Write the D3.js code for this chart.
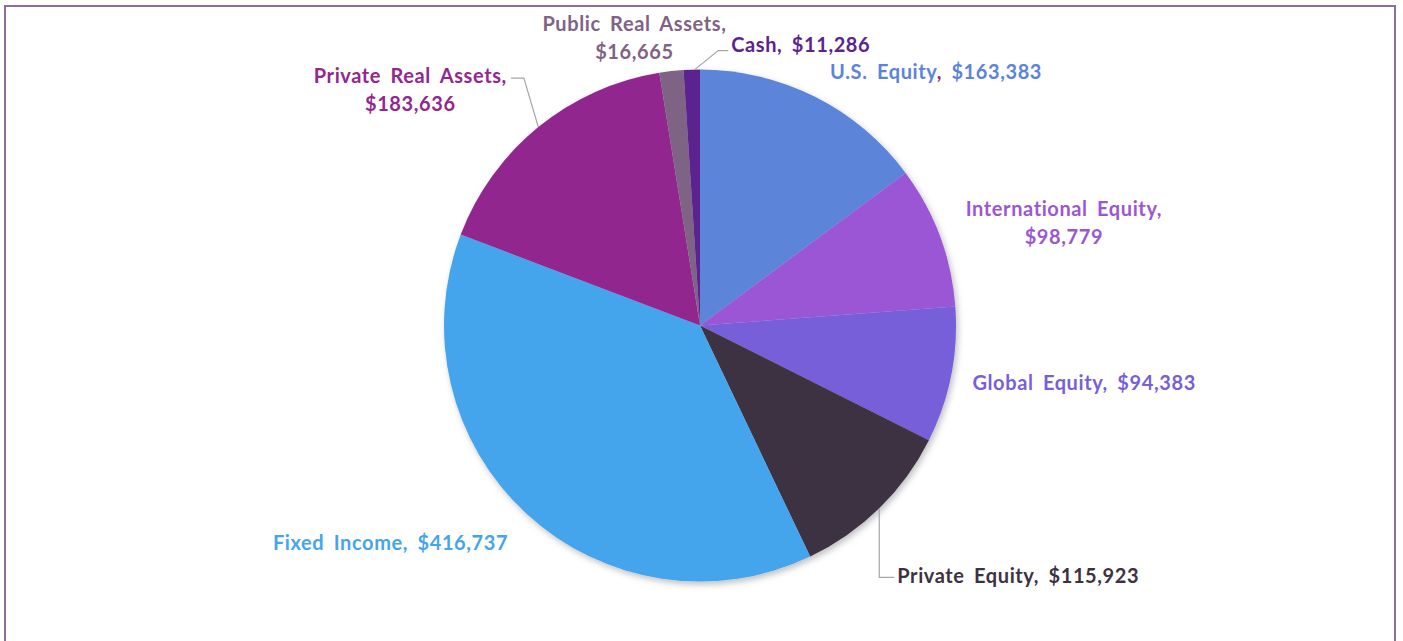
<!DOCTYPE html>
<html>
<head>
<meta charset="utf-8">
<script src="https://cdn.jsdelivr.net/npm/d3@7"></script>
<style>
  body { margin: 0; background: #fff; }
  text { font-family: Lato, "Open Sans", sans-serif; font-weight: bold; }
</style>
</head>
<body>
<svg id="chart"></svg>
<script>
let width = 1403;
let height = 641;

// data, clockwise from 12 o'clock
const categories = [
	"U.S. Equity",
	"International Equity",
	"Global Equity",
	"Private Equity",
	"Fixed Income",
	"Private Real Assets",
	"Public Real Assets",
	"Cash",
];
const values = [163383, 98779, 94383, 115923, 416737, 183636, 16665, 11286];
const colours = ["#5b84d9", "#9a57d4", "#775fd9", "#3d3142", "#45a5ec", "#92278f", "#7e6384", "#5b2390"];

// label nudges from the point on the rim at the slice's middle angle
const labelNudge = [[121, -25], [124, -13], [133, 8], [139, 68], [-136, 29], [-128, -37], [-37, -33], [109, -25]];
// labels wrapped on two lines
const twoLines = [false, true, false, false, false, true, true, false];
// which slices get a leader line
const leaders = [false, false, false, true, false, true, false, true];

const cx = 700;
const cy = 325.5;
const radius = 256;
const fontSize = 20;
const lineGap = 28;

const svg = d3.select("#chart").attr("width", width).attr("height", height);

const defs = svg.append("defs");
const shadow = defs.append("filter").attr("id", "shadow").attr("x", "-10%").attr("y", "-10%").attr("width", "120%").attr("height", "120%");
shadow.append("feDropShadow")
	.attr("dx", 2).attr("dy", 3).attr("stdDeviation", 3)
	.attr("flood-color", "#000").attr("flood-opacity", 0.25);

// frame
svg.append("rect")
	.attr("x", 5).attr("y", 6)
	.attr("width", 1390).attr("height", 660)
	.attr("fill", "white")
	.attr("stroke", "#8c6e9b")
	.attr("stroke-width", 2);

const fmt = d3.format("$,");
const pieData = d3.pie().sort(null).value((d) => d.value)(
	categories.map((c, i) => ({ name: c, value: values[i], i: i }))
);
const arc = d3.arc().innerRadius(0).outerRadius(radius);

const g = svg.append("g").attr("transform", `translate(${cx},${cy})`);

g.append("g")
	.attr("filter", "url(#shadow)")
	.selectAll("path")
	.data(pieData)
	.enter()
	.append("path")
	.attr("d", arc)
	.attr("fill", (d) => colours[d.data.i]);

function rimPoint(d) {
	const a = (d.startAngle + d.endAngle) / 2;
	return [radius * Math.sin(a), -radius * Math.cos(a)];
}

const labels = g.append("g")
	.selectAll("text")
	.data(pieData)
	.enter()
	.append("text")
	.attr("font-size", fontSize)
	.attr("fill", (d) => colours[d.data.i])
	.attr("text-anchor", "middle")
	.attr("letter-spacing", 0.6)
	.attr("word-spacing", 4)
	.each(function (d) {
		const p = rimPoint(d);
		const n = labelNudge[d.data.i];
		const x = p[0] + n[0];
		const y = p[1] + n[1];
		const t = d3.select(this);
		const name = d.data.name;
		const val = fmt(d.data.value);
		if (twoLines[d.data.i]) {
			t.append("tspan").attr("x", x).attr("y", y - lineGap / 2).attr("dy", "0.35em").text(name + ",");
			t.append("tspan").attr("x", x).attr("y", y + lineGap / 2).attr("dy", "0.35em").text(val);
		} else if (d.data.i === 0) {
			// the comma in the reference is drawn in the real-assets purple
			t.attr("x", x).attr("y", y).attr("dy", "0.35em");
			t.append("tspan").text(name);
			t.append("tspan").attr("fill", colours[5]).text(",");
			t.append("tspan").text(" " + val);
		} else {
			t.attr("x", x).attr("y", y).attr("dy", "0.35em").text(name + ", " + val);
		}
	});

// leader lines
const leaderG = g.append("g");
labels.each(function (d) {
	if (!leaders[d.data.i]) return;
	const b = this.getBBox();
	const p = rimPoint(d);
	let pts;
	if (d.data.i === 3) {
		const ly = b.y + b.height / 2 + 2;
		pts = [p, [p[0], ly], [b.x - 3, ly]];
	} else if (d.data.i === 5) {
		const ly = b.y + b.height / 4 + 2;
		pts = [p, [b.x + b.width + 17, ly], [b.x + b.width + 4, ly]];
	} else {
		const ly = b.y + b.height / 2 + 7;
		pts = [[p[0] + 3, p[1]], [b.x - 13, ly], [b.x - 3, ly]];
	}
	leaderG.append("polyline")
		.attr("points", pts.map((q) => q.join(",")).join(" "))
		.attr("fill", "none")
		.attr("stroke", "#a6a6a6")
		.attr("stroke-width", 1.2);
});
</script>
</body>
</html>
